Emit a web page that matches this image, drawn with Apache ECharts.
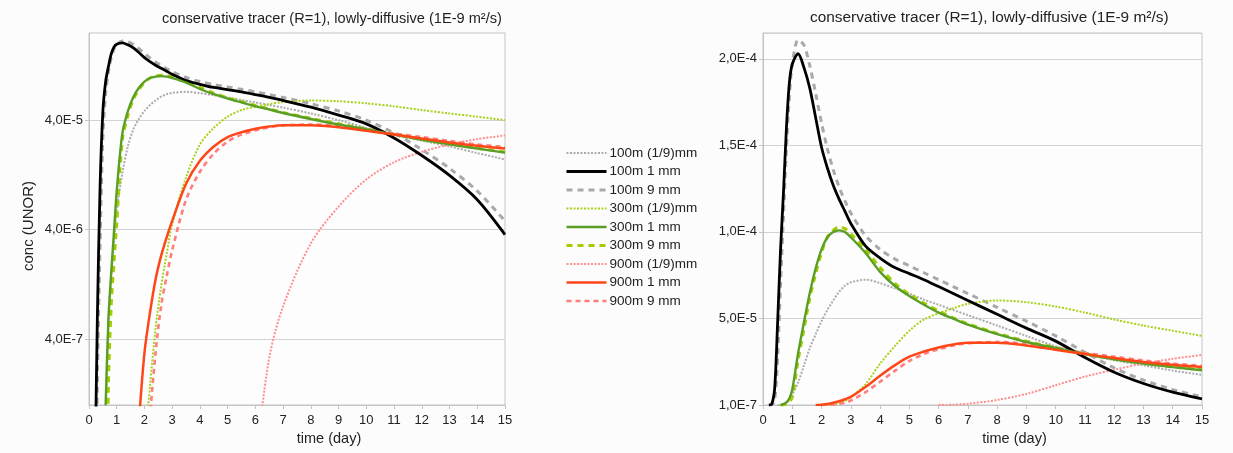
<!DOCTYPE html>
<html>
<head>
<meta charset="utf-8">
<title>conservative tracer</title>
<script src="https://cdn.jsdelivr.net/npm/echarts@6/dist/echarts.min.js"></script>
<style>
  html, body { margin: 0; padding: 0; background: #fbfcfb; }
  #chart { width: 1233px; height: 453px; }
</style>
</head>
<body>
<div id="chart"></div>
<script>
// time (day)
const days = [0.2, 0.3, 0.4, 0.5, 0.6, 0.7, 0.8, 0.9, 1.0, 1.2, 1.4, 1.6, 1.8, 2.0, 2.2, 2.4, 2.6, 2.8, 3.0,
  3.5, 4, 4.5, 5, 5.5, 6, 6.5, 7, 8, 9, 10, 11, 12, 13, 14, 15];

// conc (UNOR), one array per curve, same order as days
const c100Fine = [null, null, null, 1e-9, 6e-8, 6e-7, 1.5e-6, 3e-6, 6e-6, 1.3e-5, 2.3e-5, 3.3e-5, 4.1e-5, 4.85e-5, 5.5e-5, 6.05e-5, 6.55e-5, 6.9e-5, 7.1e-5,
  7.25e-5, 7.05e-5, 6.75e-5, 6.45e-5, 6.1e-5, 5.8e-5, 5.5e-5, 5.2e-5, 4.6e-5, 4.0e-5, 3.4e-5, 2.95e-5, 2.6e-5, 2.3e-5, 2.0e-5, 1.75e-5];
const c100Mid = [1e-8, 6e-7, 1e-5, 4.8e-5, 9.0e-5, 1.23e-4, 1.6e-4, 1.86e-4, 1.97e-4, 2.03e-4, 1.95e-4, 1.83e-4, 1.66e-4, 1.49e-4, 1.37e-4, 1.27e-4, 1.19e-4, 1.12e-4, 1.05e-4,
  9.2e-5, 8.5e-5, 7.95e-5, 7.6e-5, 7.25e-5, 6.85e-5, 6.45e-5, 6.05e-5, 5.25e-5, 4.45e-5, 3.7e-5, 2.75e-5, 1.9e-5, 1.25e-5, 7.5e-6, 3.6e-6];
const c100Coarse = [1e-9, 1.5e-7, 3e-6, 2.8e-5, 7.0e-5, 1.1e-4, 1.48e-4, 1.78e-4, 1.97e-4, 2.11e-4, 2.08e-4, 1.96e-4, 1.8e-4, 1.63e-4, 1.48e-4, 1.36e-4, 1.26e-4, 1.18e-4, 1.11e-4,
  9.8e-5, 9.0e-5, 8.45e-5, 8.05e-5, 7.65e-5, 7.25e-5, 6.85e-5, 6.45e-5, 5.65e-5, 4.85e-5, 4.0e-5, 3.05e-5, 2.15e-5, 1.45e-5, 9.0e-6, 4.8e-6];
const c300Fine = [null, null, null, null, null, null, null, null, null, null, null, null, null, 4e-8, 1.5e-7, 5e-7, 1.2e-6, 2.4e-6, 4.5e-6,
  1.2e-5, 2.4e-5, 3.4e-5, 4.3e-5, 4.95e-5, 5.3e-5, 5.6e-5, 5.85e-5, 6.05e-5, 5.95e-5, 5.7e-5, 5.35e-5, 4.95e-5, 4.6e-5, 4.3e-5, 4.0e-5];
const c300Mid = [null, null, null, null, 1e-7, 6e-7, 1.6e-6, 3.8e-6, 9e-6, 3.0e-5, 4.8e-5, 6.5e-5, 7.9e-5, 9.0e-5, 9.7e-5, 1.0e-4, 1.01e-4, 1.0e-4, 9.7e-5,
  8.8e-5, 7.7e-5, 6.9e-5, 6.3e-5, 5.8e-5, 5.35e-5, 5.0e-5, 4.65e-5, 4.1e-5, 3.65e-5, 3.3e-5, 2.95e-5, 2.65e-5, 2.4e-5, 2.2e-5, 2.02e-5];
const c300Coarse = [null, null, null, null, 1e-9, 1.5e-7, 8e-7, 2e-6, 4.5e-6, 2.6e-5, 4.4e-5, 6.2e-5, 7.6e-5, 8.8e-5, 9.7e-5, 1.01e-4, 1.03e-4, 1.02e-4, 9.9e-5,
  9.0e-5, 7.95e-5, 7.05e-5, 6.4e-5, 5.9e-5, 5.45e-5, 5.05e-5, 4.7e-5, 4.15e-5, 3.7e-5, 3.32e-5, 2.97e-5, 2.67e-5, 2.42e-5, 2.22e-5, 2.05e-5];
const c900Fine = [null, null, null, null, null, null, null, null, null, null, null, null, null, null, null, null, null, null, null,
  null, null, null, null, null, 3e-8, 2.7e-7, 8e-7, 3.0e-6, 6.5e-6, 1.15e-5, 1.65e-5, 2.05e-5, 2.4e-5, 2.68e-5, 2.9e-5];
const c900Mid = [null, null, null, null, null, null, null, null, null, null, null, null, 7e-8, 3e-7, 7e-7, 1.4e-6, 2.3e-6, 3.4e-6, 4.8e-6,
  1.05e-5, 1.7e-5, 2.3e-5, 2.8e-5, 3.1e-5, 3.33e-5, 3.5e-5, 3.6e-5, 3.6e-5, 3.45e-5, 3.2e-5, 2.95e-5, 2.72e-5, 2.5e-5, 2.33e-5, 2.2e-5];
const c900Coarse = [null, null, null, null, null, null, null, null, null, null, null, null, null, 2e-8, 8e-8, 3e-7, 8e-7, 1.5e-6, 2.6e-6,
  7.5e-6, 1.35e-5, 1.98e-5, 2.55e-5, 2.95e-5, 3.23e-5, 3.45e-5, 3.58e-5, 3.65e-5, 3.55e-5, 3.3e-5, 3.02e-5, 2.8e-5, 2.58e-5, 2.4e-5, 2.27e-5];

const names = ['100m (1/9)mm', '100m 1 mm', '100m 9 mm', '300m (1/9)mm', '300m 1 mm', '300m 9 mm',
  '900m (1/9)mm', '900m 1 mm', '900m 9 mm'];
const curves = [c100Fine, c100Mid, c100Coarse, c300Fine, c300Mid, c300Coarse, c900Fine, c900Mid, c900Coarse];

// gridline values on the log panel
const logTicks = [4e-7, 4e-6, 4e-5];

// line look per curve
const styles = [
  { color: '#ababab', width: 2, type: [2, 1.5] },
  { color: '#000000', width: 2.8, type: 'solid' },
  { color: '#a9a9a9', width: 3, type: [6, 5] },
  { color: '#a8d11a', width: 2, type: [2, 1.5] },
  { color: '#5a9e25', width: 2.4, type: 'solid' },
  { color: '#a4cc00', width: 3, type: [6, 5] },
  { color: '#ff8f8f', width: 2, type: [2, 1.5] },
  { color: '#ff4618', width: 2.5, type: 'solid' },
  { color: '#ff7d7d', width: 2.6, type: [5, 4] }
];

const font = 'Liberation Sans, Arial, sans-serif';
const title = 'conservative tracer (R=1), lowly-diffusive (1E-9 m\u00b2/s)';

const sci = v => Number(v).toExponential(1).replace('.', ',').replace('e', 'E').replace('E+', 'E');

const chart = echarts.init(document.getElementById('chart'));

const makeSeries = (gridIdx, toY) => curves.map((vals, i) => ({
  name: names[i],
  type: 'line',
  xAxisIndex: gridIdx,
  yAxisIndex: gridIdx,
  symbol: 'none',
  smooth: 0.3,
  clip: true,
  z: 10 - (i % 3 === 1 ? 0 : 1),
  color: styles[i].color,
  lineStyle: { color: styles[i].color, width: styles[i].width, type: styles[i].type },
  data: days.map((d, k) => [d, vals[k] == null ? null : toY(vals[k])])
}));

const xAxisBase = {
  type: 'value',
  min: 0,
  max: 15,
  interval: 1,
  name: 'time (day)',
  nameLocation: 'middle',
  nameGap: 22,
  // the name sits right of the plot centre in the original
  nameTextStyle: { fontFamily: font, fontSize: 14.5, color: '#222', padding: [0, 0, 0, 64] },
  axisLine: { lineStyle: { color: '#c4c4c4' } },
  axisTick: { length: 4, lineStyle: { color: '#c4c4c4' } },
  axisLabel: { fontFamily: font, fontSize: 13, color: '#222', margin: 9 },
  splitLine: { show: false }
};

const logVals = logTicks.map(v => Math.log10(v));

const option = {
  backgroundColor: '#fbfcfb',
  animation: false,
  title: [
    { text: title, left: 162, top: 11, padding: 0, textStyle: { fontFamily: font, fontSize: 14.6, fontWeight: 'normal', color: '#222' } },
    { text: title, left: 810, top: 10, padding: 0, textStyle: { fontFamily: font, fontSize: 15.4, fontWeight: 'normal', color: '#222' } }
  ],
  legend: {
    data: names,
    orient: 'vertical',
    left: 565,
    top: 146,
    padding: 0,
    itemWidth: 40,
    itemHeight: 12,
    itemGap: 4.5,
    itemStyle: { opacity: 0 },
    lineStyle: { width: 'inherit' },
    textStyle: { fontFamily: font, fontSize: 13.5, color: '#222', padding: [0, 0, 0, -2] }
  },
  grid: [
    { left: 89, top: 33, width: 416, height: 372, show: true, borderColor: '#c4c4c4', backgroundColor: '#fcfdfc' },
    { left: 763, top: 33, width: 439, height: 372, show: true, borderColor: '#c4c4c4', backgroundColor: '#fcfdfc' }
  ],
  xAxis: [
    Object.assign({}, xAxisBase, { gridIndex: 0 }),
    Object.assign({}, xAxisBase, { gridIndex: 1 })
  ],
  yAxis: [
    {
      gridIndex: 0,
      type: 'value',
      min: -7,
      max: Math.log10(2.5e-4),
      name: 'conc (UNOR)',
      nameLocation: 'middle',
      nameGap: 53,
      nameTextStyle: { fontFamily: font, fontSize: 15, color: '#222', padding: [0, 14, 0, 0] },
      axisLine: { show: true, lineStyle: { color: '#c4c4c4' } },
      axisTick: { show: true, length: 4, customValues: logVals, lineStyle: { color: '#c4c4c4' } },
      axisLabel: {
        fontFamily: font, fontSize: 13, color: '#222', margin: 6,
        customValues: logVals,
        formatter: v => sci(Math.pow(10, v))
      },
      splitLine: { show: true, lineStyle: { color: '#d2d2d2' } }
    },
    {
      gridIndex: 1,
      type: 'value',
      min: 1e-7,
      max: 2.15e-4,
      interval: 5e-5,
      axisLine: { show: true, lineStyle: { color: '#c4c4c4' } },
      axisTick: { show: true, length: 4, lineStyle: { color: '#c4c4c4' } },
      axisLabel: { fontFamily: font, fontSize: 13, color: '#222', margin: 6, formatter: v => sci(v), showMaxLabel: false },
      splitLine: { show: true, lineStyle: { color: '#d2d2d2' } }
    }
  ],
  series: makeSeries(0, v => Math.log10(v)).concat(makeSeries(1, v => v))
};

chart.setOption(option);
</script>
</body>
</html>
